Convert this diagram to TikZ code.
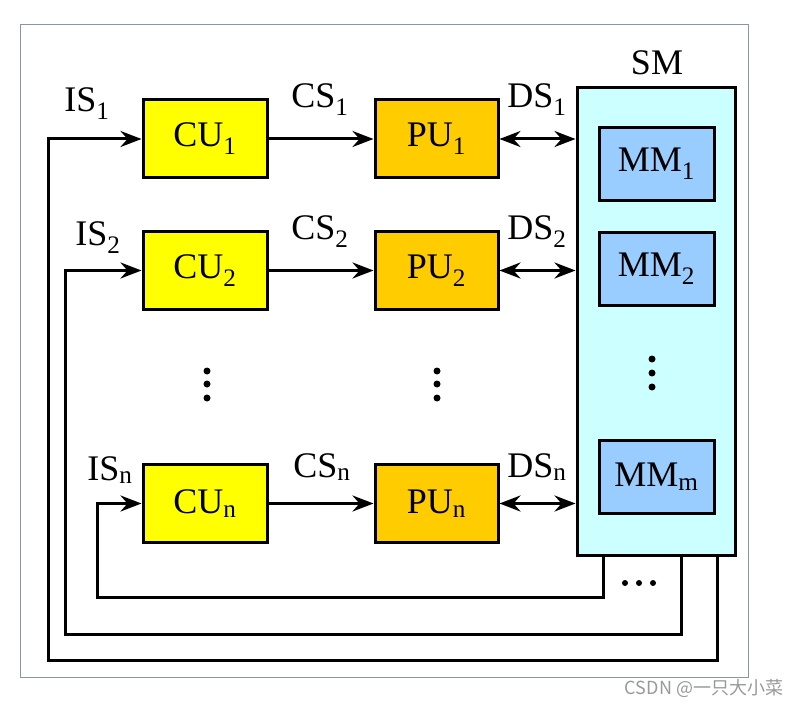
\documentclass[tikz,border=0pt]{standalone}
\usepackage{fontspec}
\setmainfont{Liberation Serif}
\newfontfamily\cjkfont{Noto Sans CJK SC}
\usetikzlibrary{arrows.meta, positioning, calc}

\definecolor{cuyellow}{HTML}{FFFF00}
\definecolor{puorange}{HTML}{FFCC00}
\definecolor{smcyan}{HTML}{CCFFFF}
\definecolor{mmblue}{HTML}{99CCFF}
\definecolor{framegray}{HTML}{8A96A8}

\begin{document}
\begin{tikzpicture} [
    x=1pt, y=-1pt,
    cu/.style={rectangle, draw=black, line width=3pt, fill=cuyellow, minimum width=124pt, minimum height=78pt, font=\fontsize{36}{40}\selectfont, inner sep=0pt},
    pu/.style={rectangle, draw=black, line width=3pt, fill=puorange, minimum width=123pt, minimum height=78pt, font=\fontsize{36}{40}\selectfont, inner sep=0pt},
    mm/.style={rectangle, draw=black, line width=3pt, fill=mmblue, minimum width=115pt, minimum height=73pt, font=\fontsize{36}{40}\selectfont, inner sep=0pt},
    sig/.style={font=\fontsize{36}{40}\selectfont, inner sep=0pt},
    arrow/.style={-{Stealth[length=21pt, width=16pt, inset=7pt]}, line width=3pt},
    biarrow/.style={{Stealth[length=21pt, width=16pt, inset=7pt]}-{Stealth[length=21pt, width=16pt, inset=7pt]}, line width=3pt}
]
\useasboundingbox (0,0) rectangle (804,706);

% frame
\draw[framegray, line width=1pt] (20,25) rectangle (748,677);

% shared memory
\node[rectangle, draw=black, line width=3pt, fill=smcyan, minimum width=158pt, minimum height=467pt] (sm) at (656,321.5) {};
\node[sig] (sm_label) at (657,63) {SM};
\node[mm] (mm1) at (656.5,164) {MM\textsubscript{1}};
\node[mm] (mm2) at (656.5,269) {MM\textsubscript{2}};
\node[mm] (mmm) at (656.5,477) {MM\textsubscript{m}};
\fill (652,359) circle (3.5pt) (652,373) circle (3.5pt) (652,387) circle (3.5pt);

% control and processing units
\node[cu] (cu1) at (205,139) {CU\textsubscript{1}};
\node[pu] (pu1) at (436.5,139) {PU\textsubscript{1}};
\node[cu] (cu2) at (205,270.5) {CU\textsubscript{2}};
\node[pu] (pu2) at (436.5,270.5) {PU\textsubscript{2}};
\node[cu] (cun) at (205,503.5) {CU\textsubscript{n}};
\node[pu] (pun) at (436.5,503.5) {PU\textsubscript{n}};
\fill (207,371) circle (3.5pt) (207,384) circle (3.5pt) (207,398) circle (3.5pt);
\fill (437,371) circle (3.5pt) (437,384) circle (3.5pt) (437,398) circle (3.5pt);

% signals
\draw[arrow] (cu1.east) -- (pu1.west);
\draw[arrow] (cu2.east) -- (pu2.west);
\draw[arrow] (cun.east) -- (pun.west);
\draw[biarrow] (pu1.east) -- (pu1.east -| sm.west);
\draw[biarrow] (pu2.east) -- (pu2.east -| sm.west);
\draw[biarrow] (pun.east) -- (pun.east -| sm.west);

\node[sig] (is1) at (87,104) {IS\textsubscript{1}};
\node[sig] (cs1) at (320,100) {CS\textsubscript{1}};
\node[sig] (ds1) at (537,100) {DS\textsubscript{1}};
\node[sig] (is2) at (98,238) {IS\textsubscript{2}};
\node[sig] (cs2) at (320,232) {CS\textsubscript{2}};
\node[sig] (ds2) at (537,232) {DS\textsubscript{2}};
\node[sig] (isn) at (110,470) {IS\textsubscript{n}};
\node[sig] (csn) at (322,467) {CS\textsubscript{n}};
\node[sig] (dsn) at (537,467) {DS\textsubscript{n}};

% instruction streams back from memory
\coordinate (loop1) at (48,660);
\coordinate (loop2) at (65,634);
\coordinate (loopn) at (97,597);
\draw[arrow, line cap=round] ([xshift=61pt]sm.south) |- (loop1) |- (cu1.west);
\draw[arrow, line cap=round] ([xshift=25pt]sm.south) |- (loop2) |- (cu2.west);
\draw[arrow, line cap=round] ([xshift=-53pt]sm.south) |- (loopn) |- (cun.west);
\fill (625,583) circle (3pt) (639,583) circle (3pt) (653,583) circle (3pt);

% watermark
\node[font=\cjkfont\fontsize{18}{20}\selectfont, text=gray!80] (mark) at (704,688) {CSDN @一只大小菜};

\end{tikzpicture}
\end{document}
